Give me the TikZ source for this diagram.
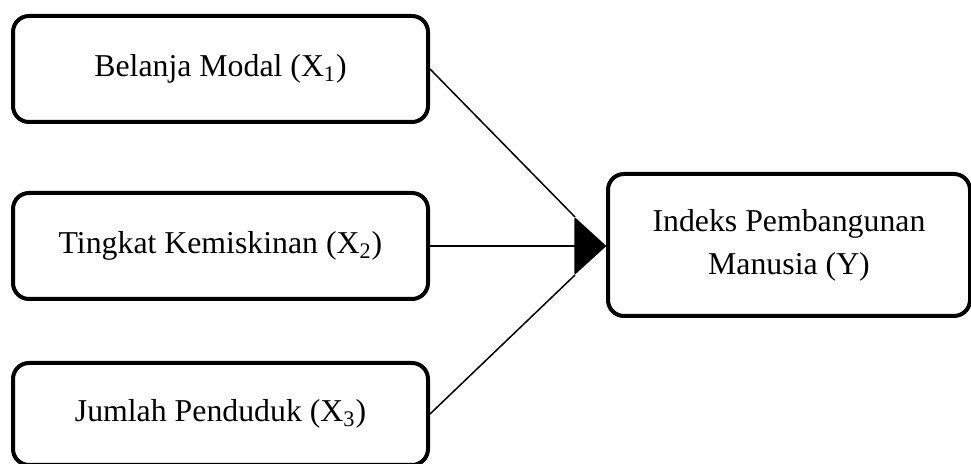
\documentclass[tikz,border=0pt]{standalone}
\usepackage{fontspec}
\setmainfont{Liberation Serif}
\usetikzlibrary{arrows.meta}
\begin{document}
\begin{tikzpicture}[x=0.5pt,y=-0.5pt,
  varbox/.style={draw,line width=2pt,rounded corners=8pt,minimum width=207.5pt,
    minimum height=53pt,align=center,font=\fontsize{15.9}{21.5}\selectfont},
  link/.style={line width=0.75pt}]
  \useasboundingbox (0,0) rectangle (971,464);
  \node[varbox] (X1) at (220.5,69) {Belanja Modal (X\textsubscript{1})};
  \node[varbox] (X2) at (220.5,246) {Tingkat Kemiskinan (X\textsubscript{2})};
  \node[varbox,minimum height=51pt] (X3) at (220.5,414) {Jumlah Penduduk (X\textsubscript{3})};
  \node[varbox,minimum width=181pt,minimum height=71pt] (Y) at (789,245) {Indeks Pembangunan\\Manusia (Y)};
  \coordinate (tipA) at (575,217);
  \coordinate (tipB) at (575,275);
  \draw[link,-{Triangle[length=16pt,width=29pt,round]}] (X2.east) -- (X2.east -| Y.west);
  \draw[link] (X1.east) -- (tipA);
  \draw[link] (X3.east) -- (tipB);
\end{tikzpicture}
\end{document}
